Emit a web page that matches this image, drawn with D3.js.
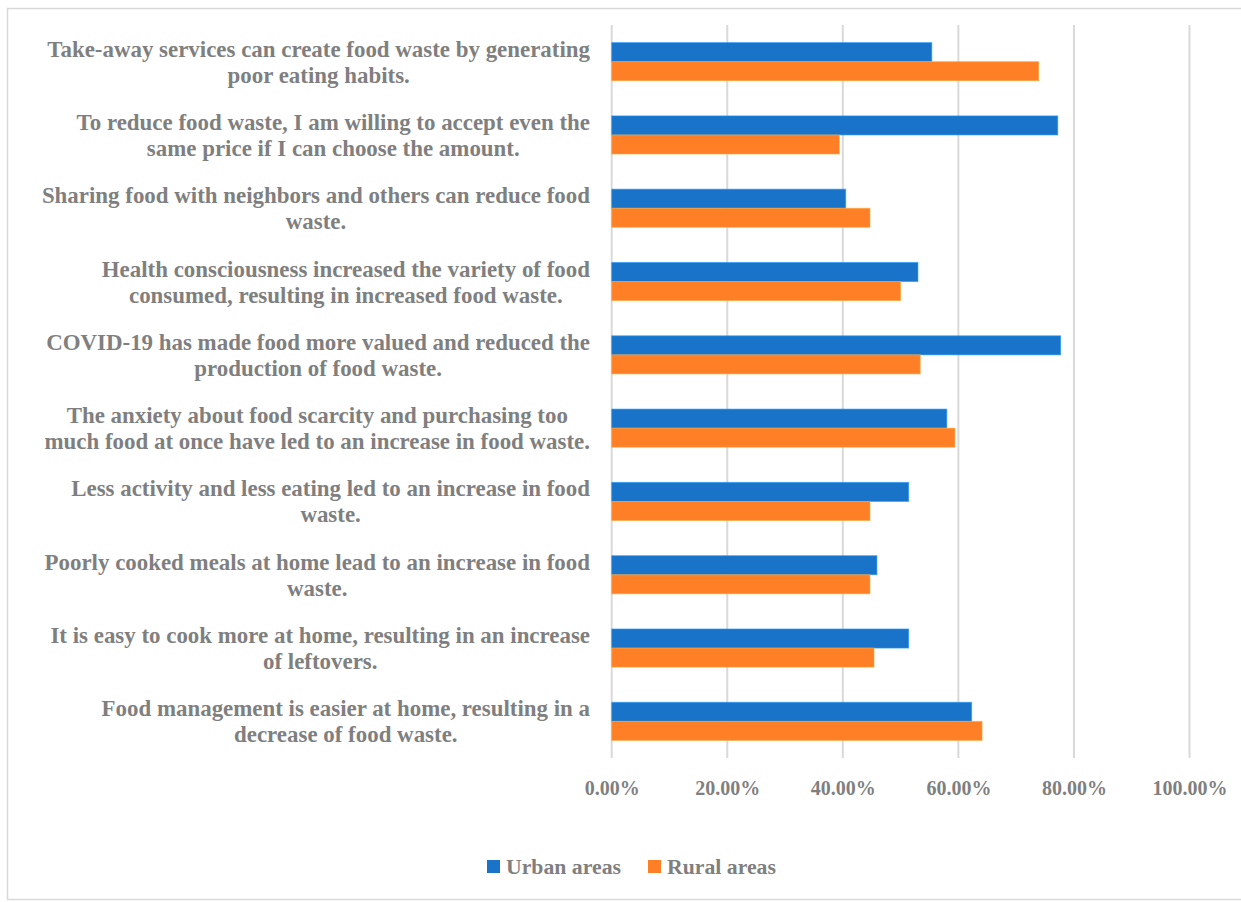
<!DOCTYPE html>
<html>
<head>
<meta charset="utf-8">
<script src="https://cdn.jsdelivr.net/npm/d3@7"></script>
<style>
  html, body { margin: 0; padding: 0; background: #fff; }
  svg { display: block; }
  text { font-family: "Liberation Serif", "DejaVu Serif", serif; font-weight: bold; fill: #7f7f7f; }
</style>
</head>
<body>
<svg id="chart" width="1241" height="902"></svg>
<script>
// Statements (top to bottom), each pre-split into its two display lines
const statements = [
  ["Take-away services can create food waste by generating", "poor eating habits."],
  ["To reduce food waste, I am willing to accept even the", "same price if I can choose the amount."],
  ["Sharing food with neighbors and others can reduce food", "waste."],
  ["Health consciousness increased the variety of food", "consumed, resulting in increased food waste."],
  ["COVID-19 has made food more valued and reduced the", "production of food waste."],
  ["The anxiety about food scarcity and purchasing too", "much food at once have led to an increase in food waste."],
  ["Less activity and less eating led to an increase in food", "waste."],
  ["Poorly cooked meals at home lead to an increase in food", "waste."],
  ["It is easy to cook more at home, resulting in an increase", "of leftovers."],
  ["Food management is easier at home, resulting in a", "decrease of food waste."]
];

// Share of respondents agreeing, in percent
const urbanAreas = [55.4, 77.2, 40.5, 53.0, 77.7, 58.0, 51.4, 45.9, 51.4, 62.3];
const ruralAreas = [73.9, 39.4, 44.7, 50.0, 53.4, 59.4, 44.7, 44.7, 45.4, 64.1];

const seriesNames = ["Urban areas", "Rural areas"];
const seriesColors = ["#1873c9", "#ff7f27"];
const xTicks = [0, 20, 40, 60, 80, 100];

const svg = d3.select("#chart");
const W = 1241, H = 902;
const plot = { left: 611.7, right: 1189.5, top: 25, bottom: 758 };

// Font size that makes a string span a given width
function fitSize(str, width) {
  const t = svg.append("text").style("font-size", "100px").text(str);
  const w = t.node().getComputedTextLength();
  t.remove();
  return 100 * width / w;
}

// Outer chart frame
svg.append("rect")
  .attr("x", 7.5).attr("y", 8.5)
  .attr("width", W + 10).attr("height", H - 11)
  .attr("fill", "none").attr("stroke", "#d9d9d9").attr("stroke-width", 1.5);

const ids = statements.map((d, i) => i);

const x = d3.scaleLinear().domain([0, 100]).range([plot.left, plot.right]);
const y = d3.scaleBand().domain(ids).range([plot.top, plot.bottom])
  .paddingInner(0.48).paddingOuter(0.24);
const ySub = d3.scaleBand().domain([0, 1]).range([0, y.bandwidth()]);

// Vertical gridlines
svg.append("g").selectAll("line").data(xTicks).join("line")
  .attr("x1", d => x(d)).attr("x2", d => x(d))
  .attr("y1", plot.top).attr("y2", plot.bottom)
  .attr("stroke", "#d9d9d9").attr("stroke-width", 2);

// Bars
const groups = svg.append("g").selectAll("g").data(ids).join("g")
  .attr("transform", i => `translate(0,${y(i)})`);

groups.selectAll("rect")
  .data(i => [urbanAreas[i], ruralAreas[i]].map((v, s) => ({ v, s })))
  .join("rect")
  .attr("x", x(0))
  .attr("y", d => ySub(d.s))
  .attr("width", d => x(d.v) - x(0))
  .attr("height", ySub.bandwidth())
  .attr("fill", d => seriesColors[d.s])
  .attr("stroke", d => d3.color(seriesColors[d.s]).brighter(0.8))
  .attr("stroke-opacity", 0.6)
  .attr("stroke-width", 1);

// X axis tick labels
const tickSize = fitSize("100.00%", 75);
const axis = d3.axisBottom(x).tickValues(xTicks)
  .tickFormat(d => d.toFixed(2) + "%").tickSize(0).tickPadding(0);
const gx = svg.append("g").attr("transform", `translate(0,${plot.bottom})`).call(axis);
gx.select(".domain").remove();
gx.attr("font-family", null).attr("font-size", null);
gx.selectAll("text")
  .attr("y", 30).attr("dy", "0.35em")
  .style("font-size", tickSize + "px")
  .attr("fill", "#7f7f7f");

// Category labels: two centred lines, block right-aligned against the plot
const labelRight = 590;
const labelSize = fitSize(statements[5][1], 546);
const labelG = svg.append("g");
const measure = labelG.append("text").style("font-size", labelSize + "px");
const blockWidths = statements.map(lines => d3.max(lines, t => {
  measure.text(t);
  return measure.node().getComputedTextLength();
}));
measure.remove();

statements.forEach((lines, i) => {
  const cy = y(i) + y.bandwidth() / 2;
  const cx = labelRight - blockWidths[i] / 2;
  labelG.append("g").selectAll("text").data(lines).join("text")
    .attr("x", cx)
    .attr("y", (d, k) => cy + (k - 0.5) * 26)
    .attr("dy", "0.35em")
    .attr("text-anchor", "middle")
    .style("font-size", labelSize + "px")
    .text(d => d);
});

// Legend
const legendSize = fitSize(seriesNames[0], 115);
const legend = svg.append("g").attr("transform", "translate(487,860)");
const legendX = [0, 161];
seriesNames.forEach((name, s) => {
  const g = legend.append("g").attr("transform", `translate(${legendX[s]},0)`);
  g.append("rect").attr("width", 13).attr("height", 13).attr("fill", seriesColors[s]);
  g.append("text").attr("x", 19).attr("y", 6.5).attr("dy", "0.35em")
    .style("font-size", legendSize + "px").text(name);
});
</script>
</body>
</html>
